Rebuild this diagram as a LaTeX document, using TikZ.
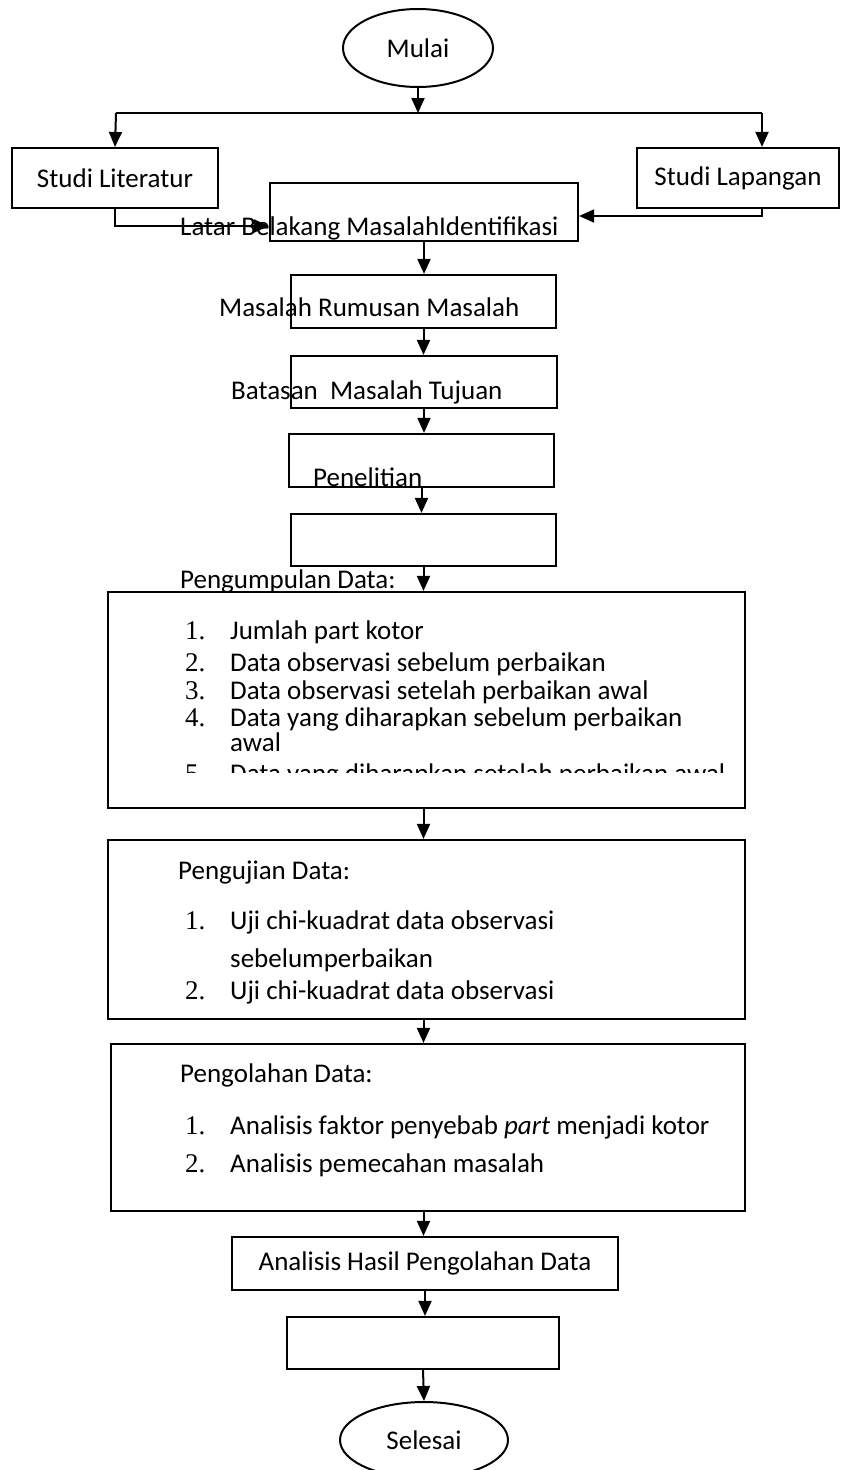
\documentclass[tikz,border=0pt]{standalone}
\usepackage{fontspec}
\setmainfont{Carlito}
\newfontfamily\numfont{Liberation Serif}
\usetikzlibrary{arrows.meta,shapes.geometric}
\begin{document}
\begin{tikzpicture}[x=1pt,y=-1pt,
  every node/.style={font=\fontsize{27}{33}\selectfont},
  boxnode/.style={draw, line width=2.2pt, rectangle, inner sep=0pt},
  ovalnode/.style={draw, line width=2pt, ellipse, inner sep=0pt},
  arr/.style={line width=2pt, -{Triangle[length=15pt,width=13pt]}},
  ln/.style={line width=2pt},
  txt/.style={inner sep=0pt, anchor=base west},
  num/.style={inner sep=0pt, anchor=base west, font=\fontsize{27}{33}\numfont},
]
\useasboundingbox (0,0) rectangle (841,1470);

% start
\node[ovalnode, minimum width=150pt, minimum height=78pt] (mulai) at (418,48) {Mulai};
\coordinate (split) at (418,113);
\coordinate (sl) at (116,113);
\coordinate (sr) at (762,113);

% studies
\node[boxnode, minimum width=206pt, minimum height=60pt] (lit) at (115,178) {Studi Literatur};
\node[boxnode, minimum width=202pt, minimum height=60pt] (lap) at (738,178) {\raisebox{4pt}{Studi Lapangan}};

% boxes
\node[boxnode, minimum width=308pt, minimum height=58pt] (latar) at (424,212) {};
\node[boxnode, minimum width=265pt, minimum height=53pt] (b2) at (423.5,301.5) {};
\node[boxnode, minimum width=266pt, minimum height=52pt] (b3) at (424,382) {};
\node[boxnode, minimum width=265pt, minimum height=53pt] (b4) at (421.5,460.5) {};
\node[boxnode, minimum width=265pt, minimum height=52pt] (b5) at (423.5,540) {};
\node[boxnode, minimum width=637pt, minimum height=216pt] (peng) at (426.5,700) {};
\node[boxnode, minimum width=637pt, minimum height=179pt] (uji) at (426.5,929.5) {};
\node[boxnode, minimum width=634pt, minimum height=167pt] (olah) at (428,1127.5) {};
\node[boxnode, minimum width=386pt, minimum height=53pt] (hasil) at (425,1263.5) {Analisis Hasil Pengolahan Data};
\node[boxnode, minimum width=272pt, minimum height=52pt] (kosong) at (423,1343) {};
\node[ovalnode, minimum width=168pt, minimum height=76pt] (selesai) at (424,1440) {Selesai};

% texts overlapping boxes
\node[txt] (tlatar) at (180,235) {Latar Belakang MasalahIdentifikasi};
\node[txt] (tb2) at (219,316) {Masalah Rumusan Masalah};
\node[txt] (tb3) at (231,399) {Batasan\ \ Masalah Tujuan};
\node[txt] (tb4) at (313,486) {Penelitian};
\node[txt] (tpeng) at (180,588) {Pengumpulan Data:};

\node[num] (n11) at (185,639) {1.};
\node[txt] (i11) at (230,639) {Jumlah part kotor};
\node[num] (n12) at (185,671) {2.};
\node[txt] (i12) at (230,671) {Data observasi sebelum perbaikan};
\node[num] (n13) at (185,699) {3.};
\node[txt] (i13) at (230,699) {Data observasi setelah perbaikan awal};
\node[num] (n14) at (185,726) {4.};
\node[txt] (i14) at (230,726) {Data yang diharapkan sebelum perbaikan};
\node[txt] (i14b) at (230,751) {awal};
\begin{scope}
  \clip (108,592) rectangle (745,772);
  \node[num] (n15) at (185,782) {5.};
  \node[txt] (i15) at (230,782) {Data yang diharapkan setelah perbaikan awal};
\end{scope}

\node[txt] (tuji) at (178,879) {Pengujian Data:};
\node[num] (n21) at (185,929) {1.};
\node[txt] (i21) at (230,929) {Uji chi-kuadrat data observasi};
\node[txt] (i21b) at (230,967) {sebelumperbaikan};
\node[num] (n22) at (185,999) {2.};
\node[txt] (i22) at (230,999) {Uji chi-kuadrat data observasi};

\node[txt] (tolah) at (180,1082) {Pengolahan Data:};
\node[num] (n31) at (185,1134) {1.};
\node[txt] (i31) at (230,1134) {Analisis faktor penyebab \textit{part} menjadi kotor};
\node[num] (n32) at (185,1172) {2.};
\node[txt] (i32) at (230,1172) {Analisis pemecahan masalah};

% connectors
\draw[arr] (mulai) -- (split);
\draw[ln] (sl) -- (sr);
\draw[arr] (sl) -- (lit.north);
\draw[arr] (sr) -- (sr |- lap.north);
\draw[arr] (lit.south) |- ([yshift=-14pt]latar.west);
\draw[arr] (sr |- lap.south) |- ([yshift=-4pt]latar.east);
\draw[arr] (latar.south) -- (latar.south |- b2.north);
\draw[arr] (b2.south) -- (b2.south |- b3.north);
\draw[arr] (b3.south) -- (b3.south |- b4.north);
\draw[arr] (b4.south) -- (b4.south |- b5.north);
\draw[arr] (b5.south) -- (b5.south |- peng.north);
\draw[arr] (b5.south |- peng.south) -- (b5.south |- uji.north);
\draw[arr] (b5.south |- uji.south) -- (b5.south |- olah.north);
\draw[arr] (b5.south |- olah.south) -- (b5.south |- hasil.north);
\draw[arr] (hasil.south) -- (hasil.south |- kosong.north);
\draw[arr] (kosong.south) -- (selesai.north);
\end{tikzpicture}
\end{document}
